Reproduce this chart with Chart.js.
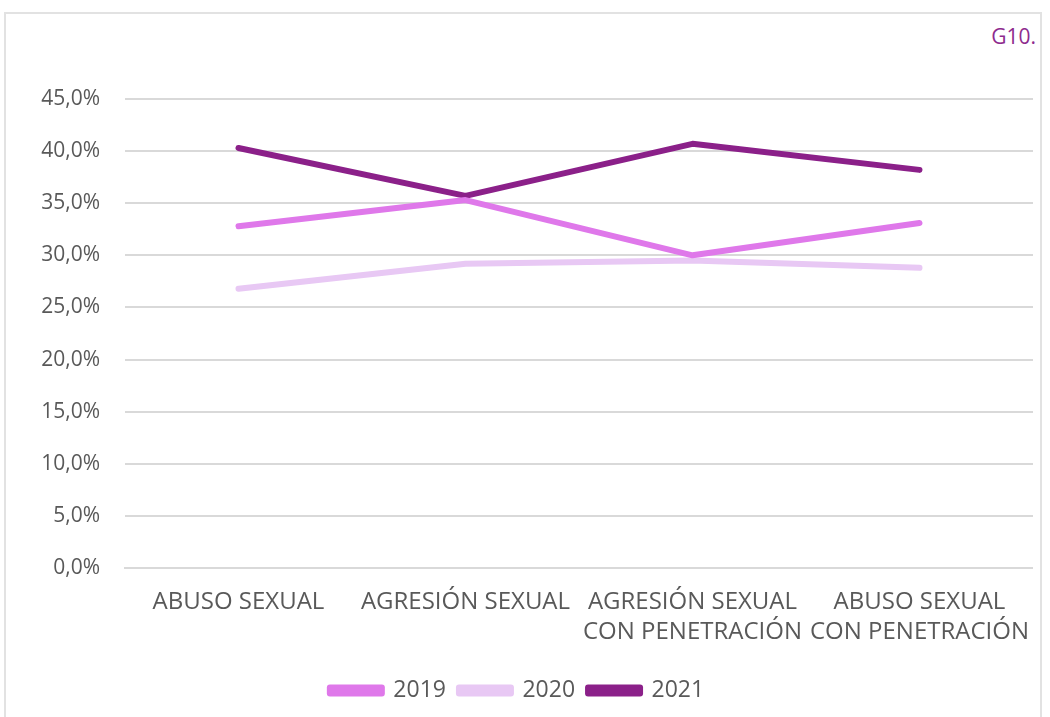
<!DOCTYPE html>
<html lang="es">
<head>
<meta charset="utf-8">
<script src="https://cdn.jsdelivr.net/npm/chart.js@4"></script>
<style>
  html, body { margin: 0; padding: 0; background: #fff; }
  body { width: 1050px; height: 717px; position: relative; overflow: hidden; font-family: 'Open Sans', sans-serif; }
  .frame { position: absolute; left: 4px; top: 12px; width: 1038px; height: 730px; border: 2px solid #e2e2e2; box-sizing: border-box; }
  .tag { position: absolute; right: 14px; top: 22px; color: #8e2a8e; font-size: 21px; }
  .wrap { position: absolute; left: 0; top: 0; width: 1050px; height: 717px; }
</style>
</head>
<body>
<div class="frame"></div>
<div class="tag">G10.</div>
<div class="wrap"><canvas id="chart"></canvas></div>
<script>
const categorias = [
  'ABUSO SEXUAL',
  'AGRESIÓN SEXUAL',
  ['AGRESIÓN SEXUAL', 'CON PENETRACIÓN'],
  ['ABUSO SEXUAL', 'CON PENETRACIÓN'],
];
const anios = ['2019', '2020', '2021'];
const serie2019 = [32.8, 35.3, 30.0, 33.1];
const serie2020 = [26.8, 29.2, 29.5, 28.8];
const serie2021 = [40.3, 35.7, 40.7, 38.2];
const colores = ['#df78ea', '#e8c8f4', '#8b2089'];
const yTicks = [0, 5, 10, 15, 20, 25, 30, 35, 40, 45];

const series = [serie2019, serie2020, serie2021];

new Chart(document.getElementById('chart'), {
  type: 'line',
  data: {
    labels: categorias,
    datasets: series.map((s, i) => ({
      label: anios[i],
      data: s,
      borderColor: colores[i],
      backgroundColor: colores[i],
      borderWidth: 6,
      borderCapStyle: 'round',
      borderJoinStyle: 'round',
      pointRadius: 0,
      tension: 0,
    })),
  },
  options: {
    responsive: true,
    maintainAspectRatio: false,
    animation: false,
    layout: { padding: { top: 99, right: 16, bottom: 5, left: 0 } },
    plugins: {
      legend: {
        position: 'bottom',
        labels: {
          boxWidth: 52,
          boxHeight: 6,
          padding: 13,
          color: '#595959',
          font: { family: 'Open Sans', size: 23 },
        },
      },
      tooltip: { enabled: false },
    },
    scales: {
      x: {
        offset: true,
        grid: { display: false, drawTicks: false },
        border: { display: true, color: '#d9d9d9', width: 2 },
        ticks: {
          color: '#595959',
          maxRotation: 0,
          autoSkip: false,
          padding: 19,
          font: { family: 'Open Sans', size: 24, lineHeight: 1.25 },
        },
      },
      y: {
        min: 0,
        max: 45,
        afterBuildTicks: s => { s.ticks = yTicks.map(v => ({ value: v })); },
        afterFit: s => { s.width = 125; },
        grid: { color: '#d9d9d9', lineWidth: 2, drawTicks: false },
        border: { display: false },
        ticks: {
          color: '#595959',
          padding: 25,
          font: { family: 'Open Sans', size: 21 },
          callback: v => v.toFixed(1).replace('.', ',') + '%',
        },
      },
    },
  },
});
</script>
</body>
</html>
